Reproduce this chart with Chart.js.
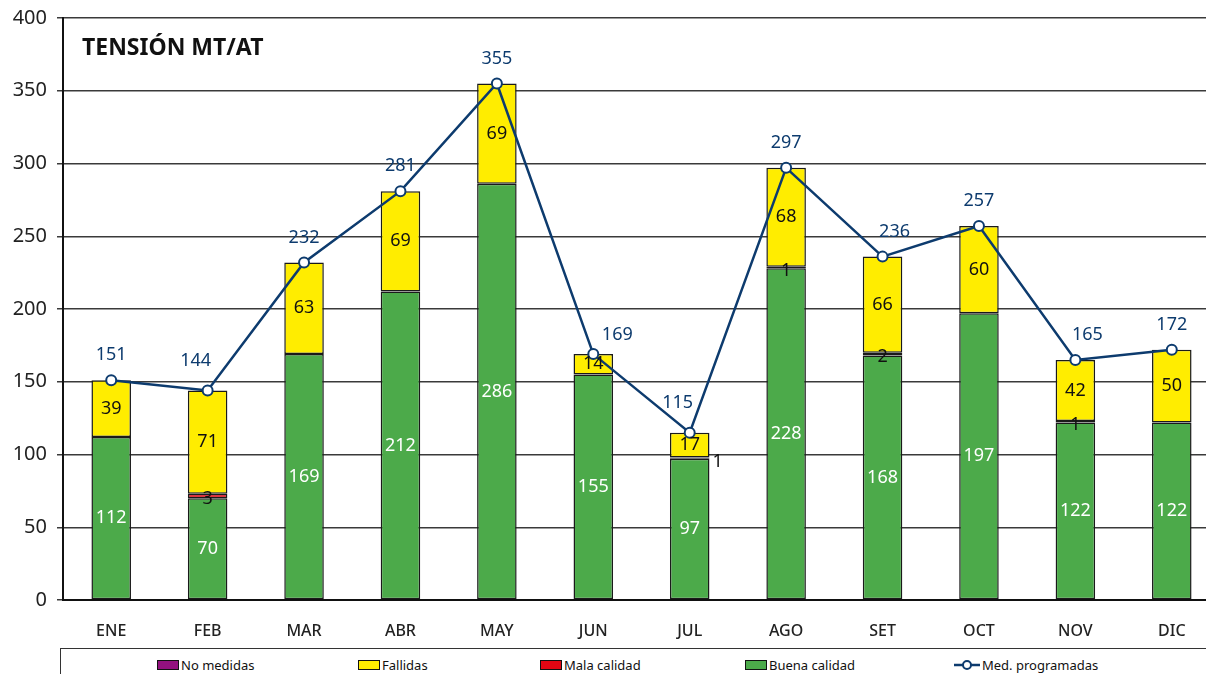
<!DOCTYPE html>
<html>
<head>
<meta charset="utf-8">
<script src="https://cdn.jsdelivr.net/npm/chart.js@4.4.1/dist/chart.umd.min.js"></script>
<style>
    html, body { margin: 0; padding: 0; background: #fff; overflow: hidden; }
    #wrap { position: relative; width: 1240px; height: 674px; }
    #chart { position: absolute; left: 0; top: -4px; }
    #legend {
        position: absolute; left: 60px; top: 648px; width: 1170px; height: 40px;
        border: 1.5px solid #333; box-sizing: border-box;
        font-family: "Liberation Sans Narrow", "Noto Sans", sans-serif; font-size: 13px; color: #111;
    }
    .item { position: absolute; top: 7px; display: flex; align-items: center; }
    .sw { width: 20px; height: 8px; border: 1px solid #111; margin-right: 2px; }
</style>
</head>
<body>
<div id="wrap">
    <canvas id="chart" width="1240" height="649"></canvas>
    <div id="legend">
        <div class="item" style="left:96px"><span class="sw" style="background:#93117e"></span>No medidas</div>
        <div class="item" style="left:297px"><span class="sw" style="background:#ffed00"></span>Fallidas</div>
        <div class="item" style="left:479px"><span class="sw" style="background:#e30613"></span>Mala calidad</div>
        <div class="item" style="left:684px"><span class="sw" style="background:#4caa4a"></span>Buena calidad</div>
        <div class="item" style="left:893px">
            <svg width="26" height="12" style="margin-right:2px"><line x1="0" y1="6" x2="26" y2="6" stroke="#0d3b6e" stroke-width="2.5"/><circle cx="13" cy="6" r="4" fill="#fff" stroke="#0d3b6e" stroke-width="2"/></svg>Med. programadas
        </div>
    </div>
</div>
<script>
// datos
const meses = ['ENE', 'FEB', 'MAR', 'ABR', 'MAY', 'JUN', 'JUL', 'AGO', 'SET', 'OCT', 'NOV', 'DIC'];
const buenaCalidad = [112, 70, 169, 212, 286, 155, 97, 228, 168, 197, 122, 122];
const malaCalidad = [0, 3, 0, 0, 0, 0, 1, 1, 2, 0, 1, 0];
const fallidas = [39, 71, 63, 69, 69, 14, 17, 68, 66, 60, 42, 50];
const noMedidas = [0, 0, 0, 0, 0, 0, 0, 0, 0, 0, 0, 0];
const medProgramadas = [151, 144, 232, 281, 355, 169, 115, 297, 236, 257, 165, 172];
const yTicks = [0, 50, 100, 150, 200, 250, 300, 350, 400];

const FONT = '"Noto Sans", sans-serif';
const NAVY = '#0d3b6e';

const sinCeros = arr => arr.map(v => (v === 0 ? null : v));

// etiquetas de valores y titulo
const etiquetas = {
    id: 'etiquetas',
    afterDatasetsDraw(chart) {
        const ctx = chart.ctx;
        const area = chart.chartArea;
        ctx.save();
        ctx.textAlign = 'center';
        ctx.textBaseline = 'middle';

        [0, 1, 2].forEach(di => {
            const ds = chart.data.datasets[di];
            const meta = chart.getDatasetMeta(di);
            meta.data.forEach((el, i) => {
                const v = ds.data[i];
                if (!v) return;
                const yMid = (el.y + el.base) / 2;
                ctx.font = '18px ' + FONT;
                if (di === 0) {
                    ctx.fillStyle = '#fff';
                    ctx.fillText(v, el.x, yMid);
                } else if (di === 1) {
                    ctx.fillStyle = '#111';
                    // si el segmento de arriba es muy chico, va afuera a la derecha
                    const arriba = chart.getDatasetMeta(2).data[i];
                    if (arriba && Math.abs(arriba.base - arriba.y) < 30) {
                        ctx.textAlign = 'left';
                        ctx.fillText(v, el.x + el.width / 2 + 3, yMid + 4);
                        ctx.textAlign = 'center';
                    } else {
                        ctx.fillText(v, el.x, yMid + 3);
                    }
                } else {
                    ctx.fillStyle = '#111';
                    ctx.fillText(v, el.x, yMid);
                }
            });
        });

        // etiquetas de la linea
        const lineMeta = chart.getDatasetMeta(4);
        ctx.font = '18px ' + FONT;
        ctx.fillStyle = NAVY;
        lineMeta.data.forEach((pt, i) => {
            const v = medProgramadas[i];
            const prev = medProgramadas[i - 1];
            const next = medProgramadas[i + 1];
            let dx = 0, dy = -25;
            if (prev !== undefined && next !== undefined) {
                if (prev > v && next < v) {
                    // bajando: arriba a la derecha
                    dx = 24; dy = -19;
                } else if (prev > v && next > v) {
                    // minimo: alejarse del lado mas empinado
                    const izq = prev - v, der = next - v;
                    if (der > izq * 2) { dx = -12; dy = -30; }
                    else if (izq > der * 2) { dx = 12; }
                }
            }
            ctx.fillText(v, pt.x + dx, pt.y + dy);
        });

        // titulo
        ctx.textAlign = 'left';
        ctx.fillStyle = '#111';
        ctx.font = 'bold 23px ' + FONT;
        ctx.fillText('TENSIÓN MT/AT', area.left + 19, 52);
        ctx.restore();
    }
};

const barra = (label, data, color) => ({
    label,
    data: sinCeros(data),
    backgroundColor: color,
    borderColor: '#1a1a1a',
    borderWidth: 1.5,
    borderSkipped: false,
    stack: 'barras',
    order: 1
});

new Chart(document.getElementById('chart'), {
    type: 'bar',
    data: {
        labels: meses,
        datasets: [
            barra('Buena calidad', buenaCalidad, '#4caa4a'),
            barra('Mala calidad', malaCalidad, '#e30613'),
            barra('Fallidas', fallidas, '#ffed00'),
            barra('No medidas', noMedidas, '#93117e'),
            {
                type: 'line',
                label: 'Med. programadas',
                data: medProgramadas,
                borderColor: NAVY,
                borderWidth: 2.5,
                pointRadius: 5,
                pointBorderWidth: 2,
                pointBackgroundColor: '#fff',
                pointBorderColor: NAVY,
                tension: 0,
                stack: 'linea',
                order: 0
            }
        ]
    },
    options: {
        responsive: false,
        animation: false,
        barPercentage: 0.41,
        categoryPercentage: 1.0,
        layout: { padding: { top: 14, right: 20, left: 0, bottom: 0 } },
        plugins: {
            legend: { display: false },
            tooltip: { enabled: false }
        },
        scales: {
            x: {
                stacked: true,
                grid: { display: false },
                border: { display: true, color: '#111', width: 2 },
                ticks: {
                    color: '#222',
                    font: { family: FONT, size: 16, weight: '500' },
                    padding: 14
                },
                afterFit(scale) { scale.height = 45; }
            },
            y: {
                stacked: true,
                min: 0,
                max: 400,
                afterBuildTicks(scale) { scale.ticks = yTicks.map(v => ({ value: v })); },
                grid: { color: '#3a3a3a', lineWidth: 1.5, tickLength: 6 },
                border: { display: true, color: '#111', width: 2 },
                ticks: {
                    color: '#222',
                    font: { family: FONT, size: 20 },
                    padding: 10
                },
                afterFit(scale) { scale.width = 63; }
            }
        }
    },
    plugins: [etiquetas]
});
</script>
</body>
</html>
